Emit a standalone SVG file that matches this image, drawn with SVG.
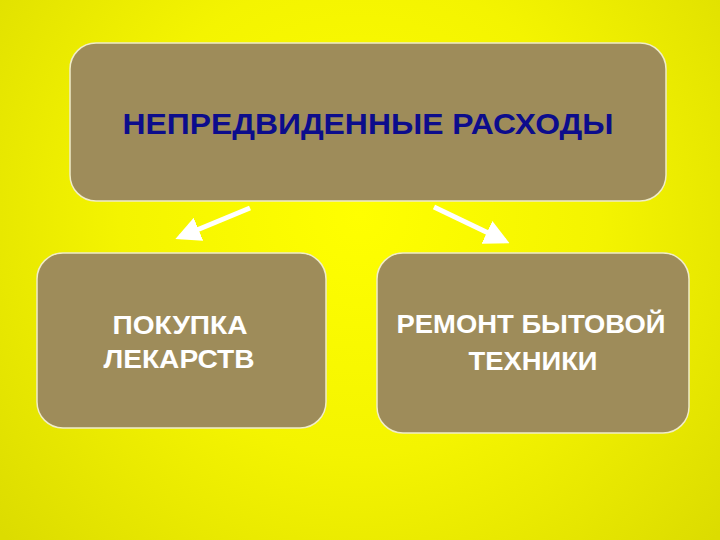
<svg xmlns="http://www.w3.org/2000/svg" width="720" height="540" viewBox="0 0 720 540">
<defs>
<radialGradient id="bg" cx="360" cy="215" r="480" gradientUnits="userSpaceOnUse">
<stop offset="0" stop-color="#ffff00"/>
<stop offset="0.5" stop-color="#f4f400"/>
<stop offset="1" stop-color="#dcdc00"/>
</radialGradient>
<marker id="ah" viewBox="0 0 10 10" refX="8" refY="5" markerWidth="5" markerHeight="5" orient="auto" markerUnits="strokeWidth">
<path d="M0,0 L10,5 L0,10 z" fill="#ffffff"/>
</marker>
<style>
.box{fill:#9e8c5a;stroke:#f0ecc8;stroke-width:1.5}
.t{font-family:"Liberation Sans",Arial,sans-serif;font-weight:bold;text-anchor:middle}
.w{fill:#ffffff;font-size:25px}
.b{fill:#0c0c8c;font-size:30px}
.c{stroke:#ffffff;stroke-width:5;fill:none;marker-end:url(#ah)}
</style>
</defs>
<rect width="720" height="540" fill="url(#bg)"/>
<g id="n-top">
<rect class="box" x="70" y="43" width="596" height="158" rx="26"/>
<text class="t b" x="368" y="134" textLength="491" lengthAdjust="spacingAndGlyphs">НЕПРЕДВИДЕННЫЕ РАСХОДЫ</text>
</g>
<g id="n-left">
<rect class="box" x="37" y="253" width="289" height="175" rx="26"/>
<text class="t w" x="180" y="334" textLength="135" lengthAdjust="spacingAndGlyphs">ПОКУПКА</text>
<text class="t w" x="179" y="368" textLength="151" lengthAdjust="spacingAndGlyphs">ЛЕКАРСТВ</text>
</g>
<g id="n-right">
<rect class="box" x="377" y="253" width="312" height="180" rx="26"/>
<text class="t w" x="531" y="333" textLength="269" lengthAdjust="spacingAndGlyphs">РЕМОНТ БЫТОВОЙ</text>
<text class="t w" x="533" y="370" textLength="129" lengthAdjust="spacingAndGlyphs">ТЕХНИКИ</text>
</g>
<g id="connectors">
<line class="c" x1="250" y1="208" x2="180" y2="237"/>
<line class="c" x1="434" y1="207" x2="505" y2="241"/>
</g>
</svg>
